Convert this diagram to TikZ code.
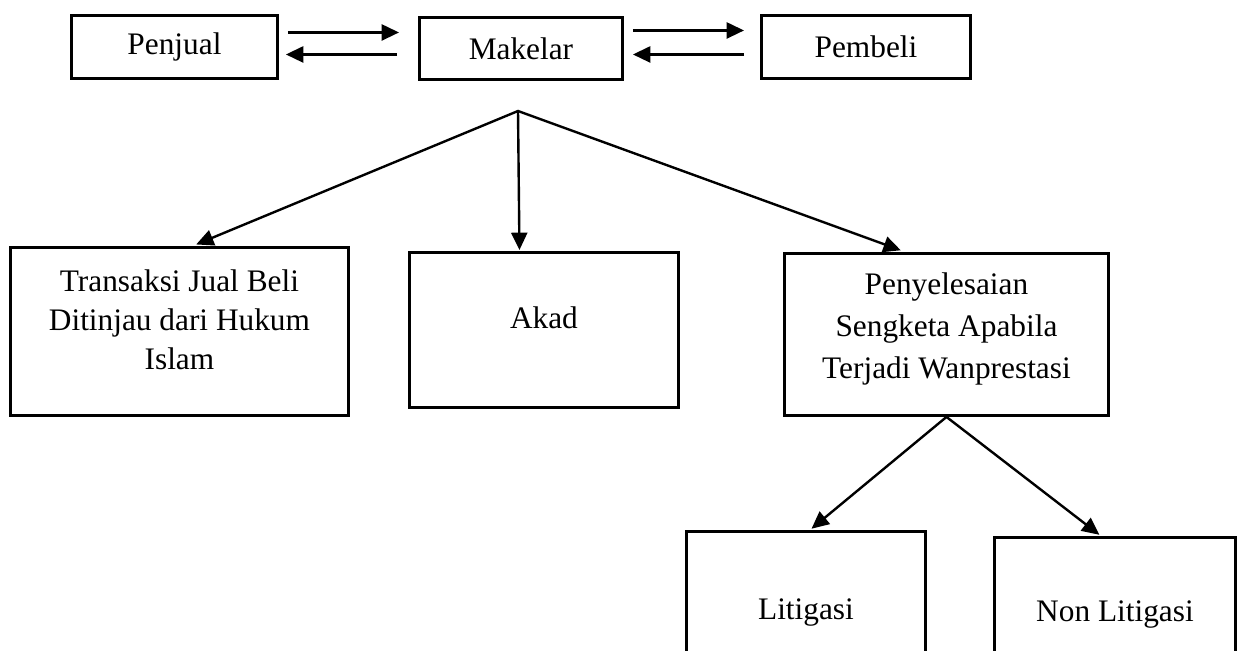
\documentclass[tikz,border=0pt]{standalone}
\usepackage{fontspec}
\setmainfont{Liberation Serif}
\usetikzlibrary{arrows.meta,calc}
\def\u{0.75pt}
\tikzset{
  box/.style={rectangle, draw=black, line width=2.2pt, align=center, anchor=north west,
              font=\fontsize{23.5}{29}\selectfont, inner sep=0pt},
  ar/.style={-{Triangle[length=13pt,width=12pt]}, line width=1.8pt},
  arr/.style={{Triangle[length=13pt,width=12pt]}-{Triangle[length=13pt,width=12pt]},
              line width=1.8pt, line join=miter},
}

\begin{document}
\begin{tikzpicture}[x=0.75pt,y={(0pt,-0.75pt)}]
\useasboundingbox (0,0) rectangle (1241,650);

% ---------- top row ----------
\node[box,minimum width=206*\u,minimum height=63*\u] (pj) at (70,14) {Penjual};
\node[box,minimum width=203*\u,minimum height=62*\u] (mk) at (418,16) {Makelar};
\node[box,minimum width=209*\u,minimum height=63*\u] (pb) at (760,14) {Pembeli};

\draw[ar,shorten <=9*\u,shorten >=19*\u] ([yshift=14.5*\u]pj.east) -- ([yshift=16*\u]mk.west);
\draw[ar,shorten <=21*\u,shorten >=7*\u] ([yshift=-6*\u]mk.west) -- ([yshift=-7.5*\u]pj.east);
\draw[ar,shorten <=9*\u,shorten >=16*\u] ([yshift=18*\u]mk.east) -- ([yshift=16.5*\u]pb.west);
\draw[ar,shorten <=16*\u,shorten >=9*\u] ([yshift=-7.5*\u]pb.west) -- ([yshift=-6*\u]mk.east);

% ---------- middle row ----------
\coordinate (hub) at (518,111);
\node[box,minimum width=338*\u,minimum height=168*\u,text depth=18pt] (tr) at (9,246)
  {Transaksi Jual Beli\\Ditinjau dari Hukum\\Islam};
\node[box,minimum width=269*\u,minimum height=155*\u,text depth=18pt] (ak) at (408,251) {Akad};
\node[box,minimum width=324*\u,minimum height=162*\u,text depth=14pt,
      font=\fontsize{23.5}{31.5}\selectfont] (ps) at (783,252)
  {Penyelesaian\\Sengketa Apabila\\Terjadi Wanprestasi};

\draw[arr,shorten <=4*\u,shorten >=5*\u] ([xshift=13*\u]tr.north) -- (hub) -- ([xshift=-41*\u]ps.north);
\draw[ar,shorten >=1*\u] (hub) -- ([xshift=-24.5*\u]ak.north);

% ---------- bottom row ----------
\node[box,minimum width=239*\u,minimum height=162*\u] (li) at (685,530) {Litigasi};
\node[box,minimum width=241*\u,minimum height=154*\u] (nl) at (993,536) {Non Litigasi};

\draw[arr,shorten <=2*\u,shorten >=2*\u] ([xshift=4*\u]li.north) -- (ps.south) -- ([xshift=-14*\u]nl.north);
\end{tikzpicture}
\end{document}
